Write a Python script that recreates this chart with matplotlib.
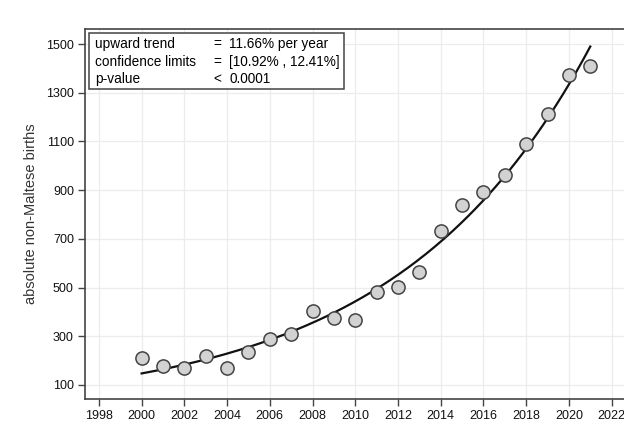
import numpy as np
import matplotlib
matplotlib.use("Agg")
import matplotlib.pyplot as plt

plt.rcParams["font.family"] = ["Liberation Sans", "DejaVu Sans"]

# yearly counts of births to non-Maltese mothers
years = [2000, 2001, 2002, 2003, 2004, 2005, 2006, 2007, 2008, 2009, 2010,
         2011, 2012, 2013, 2014, 2015, 2016, 2017, 2018, 2019, 2020, 2021]
births = [210, 177, 170, 218, 168, 236, 287, 308, 402, 376, 366,
          481, 503, 565, 734, 841, 893, 963, 1090, 1213, 1372, 1412]

# log-linear trend: growth per year (%) and fitted value in the first year
trend_rate = 11.66
trend_start = 147
conf_low, conf_high = 10.92, 12.41

x_ticks = list(range(1998, 2023, 2))
y_ticks = list(range(100, 1501, 200))

fig = plt.figure(figsize=(6.24, 4.32), dpi=100)
ax = fig.add_axes([85 / 624, 33 / 432, 548 / 624, 370 / 432])

t = np.linspace(years[0], years[-1], 200)
trend = trend_start * (1 + trend_rate / 100) ** (t - years[0])
ax.plot(t, trend, color="#111111", lw=1.6, zorder=3)
ax.plot(years, births, "o", ms=9.5, mfc="#d2d2d2", mec="#444444", mew=1.1, zorder=4)

ax.set_xlim(1997.35, 2023.0)
ax.set_ylim(42, 1562)
ax.set_xticks(x_ticks)
ax.set_yticks(y_ticks)
ax.grid(True, color="#ececec", lw=0.9)
ax.set_axisbelow(True)
for s in ax.spines.values():
    s.set_color("#444444")
    s.set_linewidth(1.2)
ax.tick_params(direction="out", length=5, width=1, color="#444444",
               labelsize=9, labelcolor="#111111", pad=3)
ax.set_ylabel("absolute non-Maltese births", fontsize=10.5, color="#333333", labelpad=6)

# summary box of the trend estimate
box_rows = [("upward trend", "=", f"{trend_rate:.2f}% per year"),
            ("confidence limits", "=", f"[{conf_low:.2f}% , {conf_high:.2f}%]"),
            ("p-value", "<", "0.0001")]
row_y = [0.9586, 0.9116, 0.8646]
for yy, (name, op, val) in zip(row_y, box_rows):
    ax.text(0.0182, yy, name, transform=ax.transAxes, fontsize=9.8, va="center", zorder=6)
    ax.text(0.2336, yy, op, transform=ax.transAxes, fontsize=9.8, va="center", zorder=6)
    ax.text(0.2628, yy, val, transform=ax.transAxes, fontsize=9.8, va="center", zorder=6)
ax.add_patch(plt.Rectangle((0.0078, 0.837), 0.465, 0.151, transform=ax.transAxes,
                           fill=True, fc="white", ec="#444444", lw=1.1, zorder=5))

fig.savefig("out.png", dpi=100)
